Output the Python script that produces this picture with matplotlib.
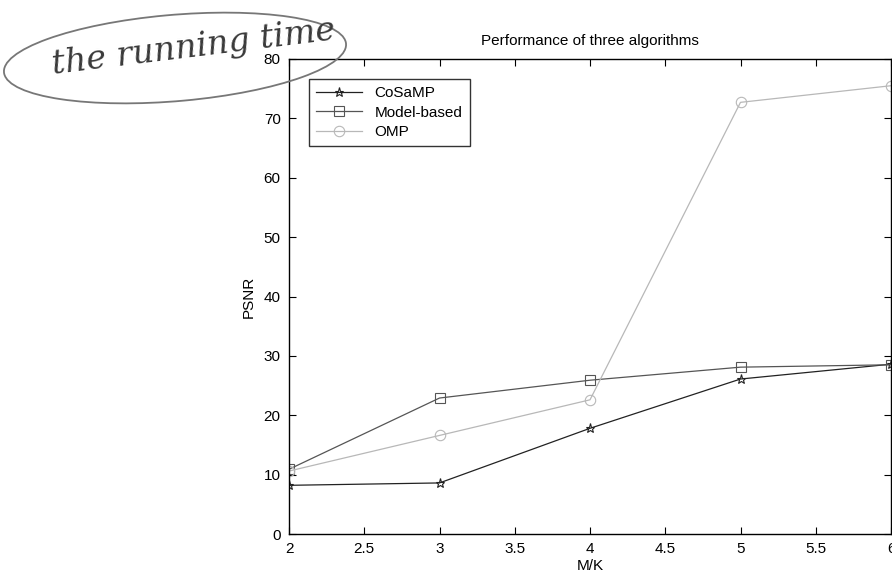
import matplotlib.pyplot as plt
from matplotlib.patches import Ellipse

plt.rcParams['font.family'] = ['Liberation Sans', 'DejaVu Sans']

# PSNR against measurement ratio for each algorithm
mk = [2, 3, 4, 5, 6]
cosamp = [8.2, 8.6, 17.8, 26.1, 28.6]
model_based = [10.9, 22.9, 25.9, 28.1, 28.5]
omp = [10.6, 16.6, 22.6, 72.7, 75.5]

xticks = [2, 2.5, 3, 3.5, 4, 4.5, 5, 5.5, 6]
yticks = [0, 10, 20, 30, 40, 50, 60, 70, 80]

fig = plt.figure(figsize=(8.92, 5.81), dpi=100)
ax = fig.add_axes([289/892, 1 - 534/581, 602/892, 475/581])

ax.plot(mk, cosamp, color='#222222', lw=0.9, marker='*', ms=6.5,
        mfc='none', mec='#222222', mew=0.8, label='CoSaMP')
ax.plot(mk, model_based, color='#555555', lw=0.9, marker='s', ms=7.5,
        mfc='none', mec='#555555', mew=0.8, label='Model-based')
ax.plot(mk, omp, color='#b8b8b8', lw=0.9, marker='o', ms=7.5,
        mfc='none', mec='#b8b8b8', mew=0.8, label='OMP')

ax.set_xlim(2, 6)
ax.set_ylim(0, 80)
ax.set_xticks(xticks)
ax.set_xticklabels(['2', '2.5', '3', '3.5', '4', '4.5', '5', '5.5', '6'])
ax.set_yticks(yticks)
ax.tick_params(direction='in', top=True, right=True, labelsize=11, length=5, pad=6)
for s in ax.spines.values():
    s.set_linewidth(1.0)

ax.set_title('Performance of three algorithms', fontsize=11, pad=10)
ax.set_xlabel('M/K', fontsize=11, labelpad=2)
ax.set_ylabel('PSNR', fontsize=11, labelpad=6)

leg = ax.legend(loc='upper left', fontsize=11, frameon=True, fancybox=False,
                edgecolor='black', borderpad=0.5, handlelength=3,
                labelspacing=0.35, bbox_to_anchor=(0.02, 0.975))
leg.get_frame().set_linewidth(1.0)

# handwritten note circled in the top-left corner
fig.text(50/892, 1 - 74/581, 'the running time', fontsize=24, style='italic',
         family='DejaVu Serif', color='#3a3a3a', rotation=7)
fig.add_artist(Ellipse((175/892, 1 - 58/581), 345/892, 86/581, angle=8,
                       transform=fig.transFigure, fill=False,
                       edgecolor='#777777', lw=1.3))

fig.savefig('out.png', dpi=100)
